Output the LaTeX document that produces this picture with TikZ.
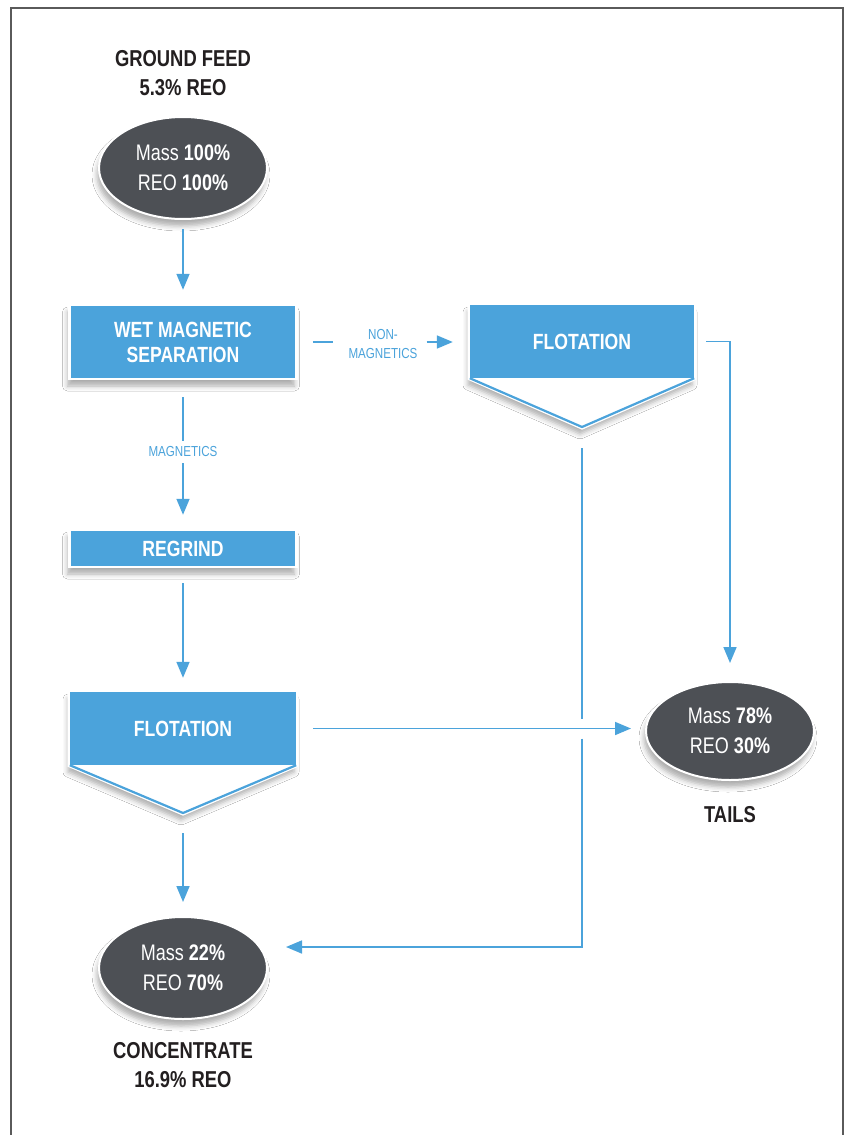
\documentclass[tikz,border=0pt]{standalone}
\usepackage{fontspec}
\setmainfont{Liberation Sans}[FakeStretch=0.8]
\usetikzlibrary{shadows.blur,arrows.meta,shapes.geometric}
\definecolor{flowblue}{HTML}{4BA3DB}
\definecolor{ovalgray}{HTML}{4D5055}
\definecolor{inkdark}{HTML}{231F20}
\definecolor{framegray}{HTML}{5A5A5A}
\begin{document}
\begin{tikzpicture}[x=1pt,y=-1pt,
  softshadow/.style={blur shadow={shadow xshift=-2pt, shadow yshift=-7pt, shadow blur radius=5pt, shadow opacity=32}},
  flow/.style={draw=flowblue, line width=1.7pt, -{Triangle[length=16pt,width=13pt]}},
  plainline/.style={draw=flowblue, line width=1.7pt},
  oval/.style={ellipse, fill=ovalgray, draw=white, line width=2pt, minimum width=168pt, minimum height=102pt, inner sep=0pt, text=white, font=\fontsize{22.5}{30}\selectfont, align=center, softshadow},
  stepbox/.style={rectangle, fill=flowblue, draw=white, line width=2.5pt, text=white, font=\bfseries\fontsize{22}{25}\selectfont, align=center, minimum width=227pt, inner sep=0pt, softshadow},
  flotbox/.style={rectangle, fill=flowblue, text=white, font=\bfseries\fontsize{22}{25}\selectfont, align=center, inner sep=0pt, minimum height=73pt},
  chevron/.style={fill=white, draw=white, line width=5pt, line join=miter, softshadow},
  chevronline/.style={draw=flowblue, line width=2.2pt, line join=miter},
  title/.style={text=inkdark, font=\bfseries\fontsize{23}{29}\selectfont, align=center},
  flowlabel/.style={text=flowblue, font=\fontsize{14.5}{19}\selectfont, align=center, inner sep=0pt}]
\useasboundingbox (0,0) rectangle (846,1135);
\fill[white] (0,0) rectangle (846,1135);
% frame
\draw[framegray, line width=1.5pt] (11,1136) -- (11,8) -- (843,8) -- (843,1136);

% top feed
\node[title] (feedlbl) at (183,73) {GROUND FEED\\5.3\% REO};
\node[oval] (feed) at (183,168) {Mass \textbf{100\%}\\REO \textbf{100\%}};

% wet magnetic separation
\node[stepbox, minimum height=74pt] (wms) at (183,342) {WET MAGNETIC\\SEPARATION};

% right flotation
\path[chevron] (470,305) -- (694,305) -- (694,378) -- (582,427) -- (470,378) -- cycle;
\node[flotbox, minimum width=224pt] (flotR) at (582,341.5) {FLOTATION};
\coordinate (flotRtip) at (582,427);
\draw[chevronline] (flotR.south west) -- (flotRtip) -- (flotR.south east);

% regrind
\node[stepbox, minimum height=37pt] (regrind) at (183,548.5) {REGRIND};

% left flotation
\path[chevron] (70,692) -- (296,692) -- (296,765) -- (183,813) -- (70,765) -- cycle;
\node[flotbox, minimum width=226pt] (flotL) at (183,728.5) {FLOTATION};
\coordinate (flotLtip) at (183,813);
\draw[chevronline] (flotL.south west) -- (flotLtip) -- (flotL.south east);

% tails
\node[oval, minimum height=98pt] (tails) at (730,731) {Mass \textbf{78\%}\\REO \textbf{30\%}};
\node[title] (tailslbl) at (730,815) {TAILS};

% concentrate
\node[oval] (conc) at (183,968) {Mass \textbf{22\%}\\REO \textbf{70\%}};
\node[title] (conclbl) at (183,1065) {CONCENTRATE\\16.9\% REO};

% labels
\node[flowlabel] (nonmag) at (383,344) {NON-\\MAGNETICS};
\node[flowlabel] (mag) at (183,452) {MAGNETICS};

% connectors
\draw[flow] ([yshift=-9pt]feed.south) -- ([yshift=14pt]wms.north);
\draw[plainline] ([xshift=15pt]wms.east) -- ([xshift=-15pt]nonmag.west |- wms.east);
\draw[flow] ([xshift=9pt]nonmag.east |- wms.east) -- ([xshift=-17pt]flotR.west |- wms.east);
\draw[plainline] ([yshift=-17pt]wms.south) -- ([yshift=6pt]mag.north);
\draw[flow] ([yshift=-6pt]mag.south) -- ([yshift=14pt]regrind.north);
\draw[flow] ([yshift=-15pt]regrind.south) -- ([yshift=14pt]flotL.north);
\draw[flow] ([yshift=-20pt]flotLtip) -- ([yshift=14pt]conc.north);
\draw[flow] ([xshift=12pt]flotR.east) -| ([yshift=18pt]tails.north);
\draw[flow] ([xshift=17pt]flotL.east) -- ([xshift=-14pt]tails.west |- flotL.east);
\coordinate (cross) at (flotRtip |- flotL.east);
\draw[plainline] ([yshift=-21pt]flotRtip) -- ([yshift=10pt]cross);
\draw[flow] ([yshift=-10pt]cross) |- ([xshift=18pt,yshift=21pt]conc.east);
\end{tikzpicture}
\end{document}
